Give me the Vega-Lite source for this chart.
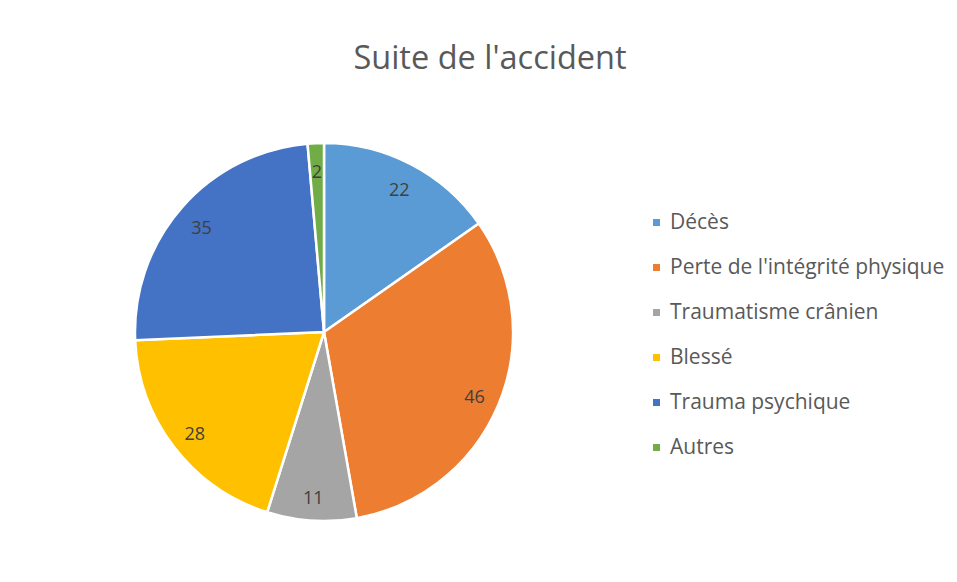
{
  "$schema": "https://vega.github.io/schema/vega-lite/v6.json",
  "autosize": "none",
  "width": 378,
  "height": 378,
  "padding": {"left": 135, "top": 143, "right": 444, "bottom": 61},
  "background": "white",
  "title": {
    "text": "Suite de l'accident",
    "font": "Open Sans",
    "fontSize": 32.5,
    "fontWeight": "normal",
    "color": "#595959",
    "anchor": "middle",
    "dx": 166,
    "baseline": "alphabetic",
    "offset": 37
  },
  "data": {
    "values": [
      {"categorie": "Décès", "valeur": 22, "i": 1},
      {"categorie": "Perte de l'intégrité physique", "valeur": 46, "i": 2},
      {"categorie": "Traumatisme crânien", "valeur": 11, "i": 3},
      {"categorie": "Blessé", "valeur": 28, "i": 4},
      {"categorie": "Trauma psychique", "valeur": 35, "i": 5},
      {"categorie": "Autres", "valeur": 2, "i": 6}
    ]
  },
  "encoding": {
    "theta": {"field": "valeur", "type": "quantitative", "stack": true},
    "order": {"field": "i", "type": "quantitative"}
  },
  "layer": [
    {
      "mark": {"type": "arc", "stroke": "white", "strokeWidth": 2.5},
      "encoding": {
        "color": {
          "field": "categorie",
          "type": "nominal",
          "sort": null,
          "scale": {
            "domain": ["Décès", "Perte de l'intégrité physique", "Traumatisme crânien", "Blessé", "Trauma psychique", "Autres"],
            "range": ["#5B9BD5", "#ED7D31", "#A5A5A5", "#FFC000", "#4472C4", "#70AD47"]
          },
          "legend": {
            "title": null,
            "orient": "none",
            "legendX": 511,
            "legendY": 69,
            "symbolType": "square",
            "symbolSize": 49,
            "symbolStrokeWidth": 0,
            "labelFont": "Open Sans",
            "labelFontSize": 21,
            "labelColor": "#595959",
            "labelOffset": 3,
            "rowPadding": 23,
            "labelLimit": 400
          }
        }
      }
    },
    {
      "mark": {"type": "text", "radius": 163, "dy": 4, "font": "Open Sans", "fontSize": 18, "color": "#404040"},
      "encoding": {
        "text": {"field": "valeur", "type": "quantitative"}
      }
    }
  ],
  "config": {"view": {"stroke": null}}
}
